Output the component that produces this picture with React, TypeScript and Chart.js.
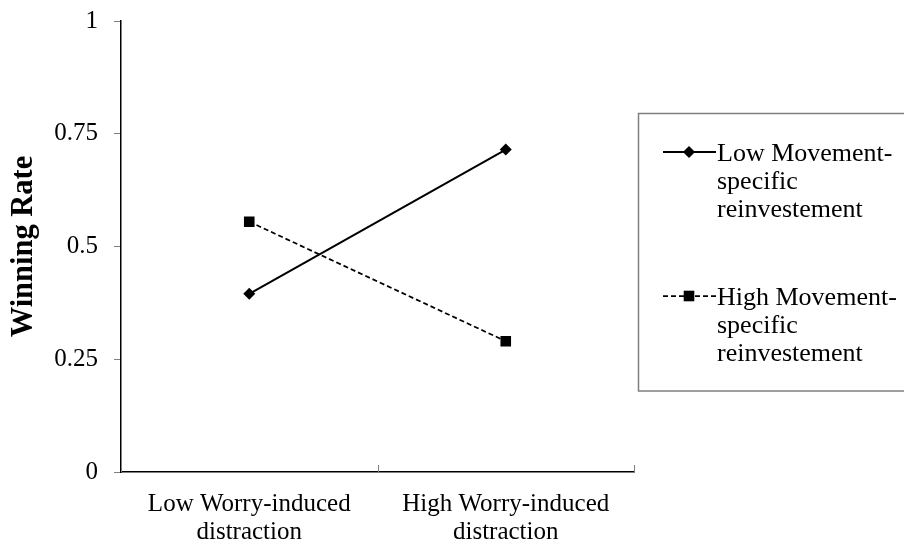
import React, { useEffect, useRef } from "react";
import { Chart, registerables } from "chart.js";

Chart.register(...registerables);

const categories: string[][] = [
  ["Low Worry-induced", "distraction"],
  ["High Worry-induced", "distraction"],
];
const lowMovement: number[] = [0.395, 0.715];
const highMovement: number[] = [0.555, 0.29];
const seriesLabels: string[][] = [
  ["Low Movement-", "specific", "reinvestement"],
  ["High Movement-", "specific", "reinvestement"],
];
const yTickValues: number[] = [0, 0.25, 0.5, 0.75, 1];
const yTitle = "Winning Rate";

const FONT = "'Times New Roman', 'Liberation Serif', serif";

const innerTicksPlugin = {
  id: "innerTicks",
  afterDraw(chart: any) {
    const x = chart.scales.x;
    const ctx = chart.ctx;
    const bottom = chart.chartArea.bottom;
    ctx.save();
    ctx.strokeStyle = "#808080";
    ctx.lineWidth = 1;
    for (let i = 0; i <= categories.length; i++) {
      const px = Math.round(x.getPixelForValue(i - 0.5)) + 0.5;
      ctx.beginPath();
      ctx.moveTo(px, bottom);
      ctx.lineTo(px, bottom - 7);
      ctx.stroke();
    }
    ctx.restore();
  },
};

function drawMarker(ctx: CanvasRenderingContext2D, style: string, x: number, y: number, r: number) {
  ctx.beginPath();
  if (style === "rect") {
    const s = r * Math.SQRT1_2;
    ctx.rect(x - s, y - s, 2 * s, 2 * s);
  } else {
    ctx.moveTo(x, y - r);
    ctx.lineTo(x + r, y);
    ctx.lineTo(x, y + r);
    ctx.lineTo(x - r, y);
    ctx.closePath();
  }
  ctx.fill();
}

const legendPlugin = {
  id: "customLegend",
  afterDraw(chart: any) {
    const ctx: CanvasRenderingContext2D = chart.ctx;
    ctx.save();
    ctx.strokeStyle = "#7f7f7f";
    ctx.lineWidth = 1.5;
    ctx.strokeRect(638.5, 113.5, 300, 277.5);
    const entryCenters = [152, 296];
    chart.data.datasets.forEach((ds: any, i: number) => {
      const cy = entryCenters[i];
      ctx.strokeStyle = "#000";
      ctx.lineWidth = ds.borderWidth;
      ctx.setLineDash(ds.borderDash || []);
      ctx.beginPath();
      ctx.moveTo(663, cy);
      ctx.lineTo(716, cy);
      ctx.stroke();
      ctx.setLineDash([]);
      ctx.fillStyle = "#000";
      drawMarker(ctx, ds.pointStyle, 689, cy, ds.pointRadius);
      ctx.font = `26px ${FONT}`;
      ctx.textBaseline = "alphabetic";
      ctx.textAlign = "left";
      seriesLabels[i].forEach((line, j) => {
        ctx.fillText(line, 717, cy + 9 + j * 28);
      });
    });
    ctx.restore();
  },
};

export default function App() {
  const ref = useRef<HTMLCanvasElement | null>(null);
  useEffect(() => {
    if (!ref.current) return;
    const chart = new Chart(ref.current, {
      type: "line",
      data: {
        labels: categories as any,
        datasets: [
          {
            label: seriesLabels[0].join(" "),
            data: lowMovement,
            borderColor: "#000",
            backgroundColor: "#000",
            borderWidth: 2,
            pointStyle: "rectRot",
            pointRadius: 6,
            pointBackgroundColor: "#000",
            pointBorderWidth: 0,
            tension: 0,
          },
          {
            label: seriesLabels[1].join(" "),
            data: highMovement,
            borderColor: "#000",
            backgroundColor: "#000",
            borderWidth: 1.75,
            borderDash: [5, 3],
            pointStyle: "rect",
            pointRadius: 7.5,
            pointBackgroundColor: "#000",
            pointBorderWidth: 0,
            tension: 0,
          },
        ],
      },
      options: {
        animation: false,
        responsive: false,
        layout: { padding: { left: 0, top: 21, right: 270, bottom: 0 } },
        plugins: {
          legend: { display: false },
          tooltip: { enabled: false },
        },
        scales: {
          x: {
            type: "category",
            offset: true,
            grid: { display: false, drawTicks: false },
            border: { display: true, color: "#000", width: 1.5 },
            ticks: {
              color: "#000",
              padding: 18,
              maxRotation: 0,
              autoSkip: false,
              font: { family: FONT, size: 25, lineHeight: "28px" },
            },
            afterFit(scale: any) {
              scale.height = 72;
            },
          },
          y: {
            min: 0,
            max: 1,
            afterBuildTicks(scale: any) {
              scale.ticks = yTickValues.map((v) => ({ value: v }));
            },
            grid: {
              display: true,
              drawOnChartArea: false,
              drawTicks: true,
              tickLength: 7,
              color: "#808080",
            },
            border: { display: true, color: "#000", width: 1.5 },
            ticks: {
              color: "#000",
              padding: 16,
              font: { family: FONT, size: 25 },
              callback: (v: any) => String(v),
            },
            title: {
              display: true,
              text: yTitle,
              color: "#000",
              font: { family: FONT, size: 30.5, weight: "bold" },
              padding: { top: 6, bottom: 4 },
            },
            afterFit(scale: any) {
              scale.width = 121;
              scale.paddingTop = 0;
              scale.paddingBottom = 0;
            },
          },
        },
      },
      plugins: [innerTicksPlugin, legendPlugin],
    });
    return () => chart.destroy();
  }, []);
  return (
    <div style={{ position: "fixed", left: 0, top: 0, width: 904, height: 544, background: "#fff" }}>
      <canvas ref={ref} width={904} height={544} style={{ display: "block" }} />
    </div>
  );
}
